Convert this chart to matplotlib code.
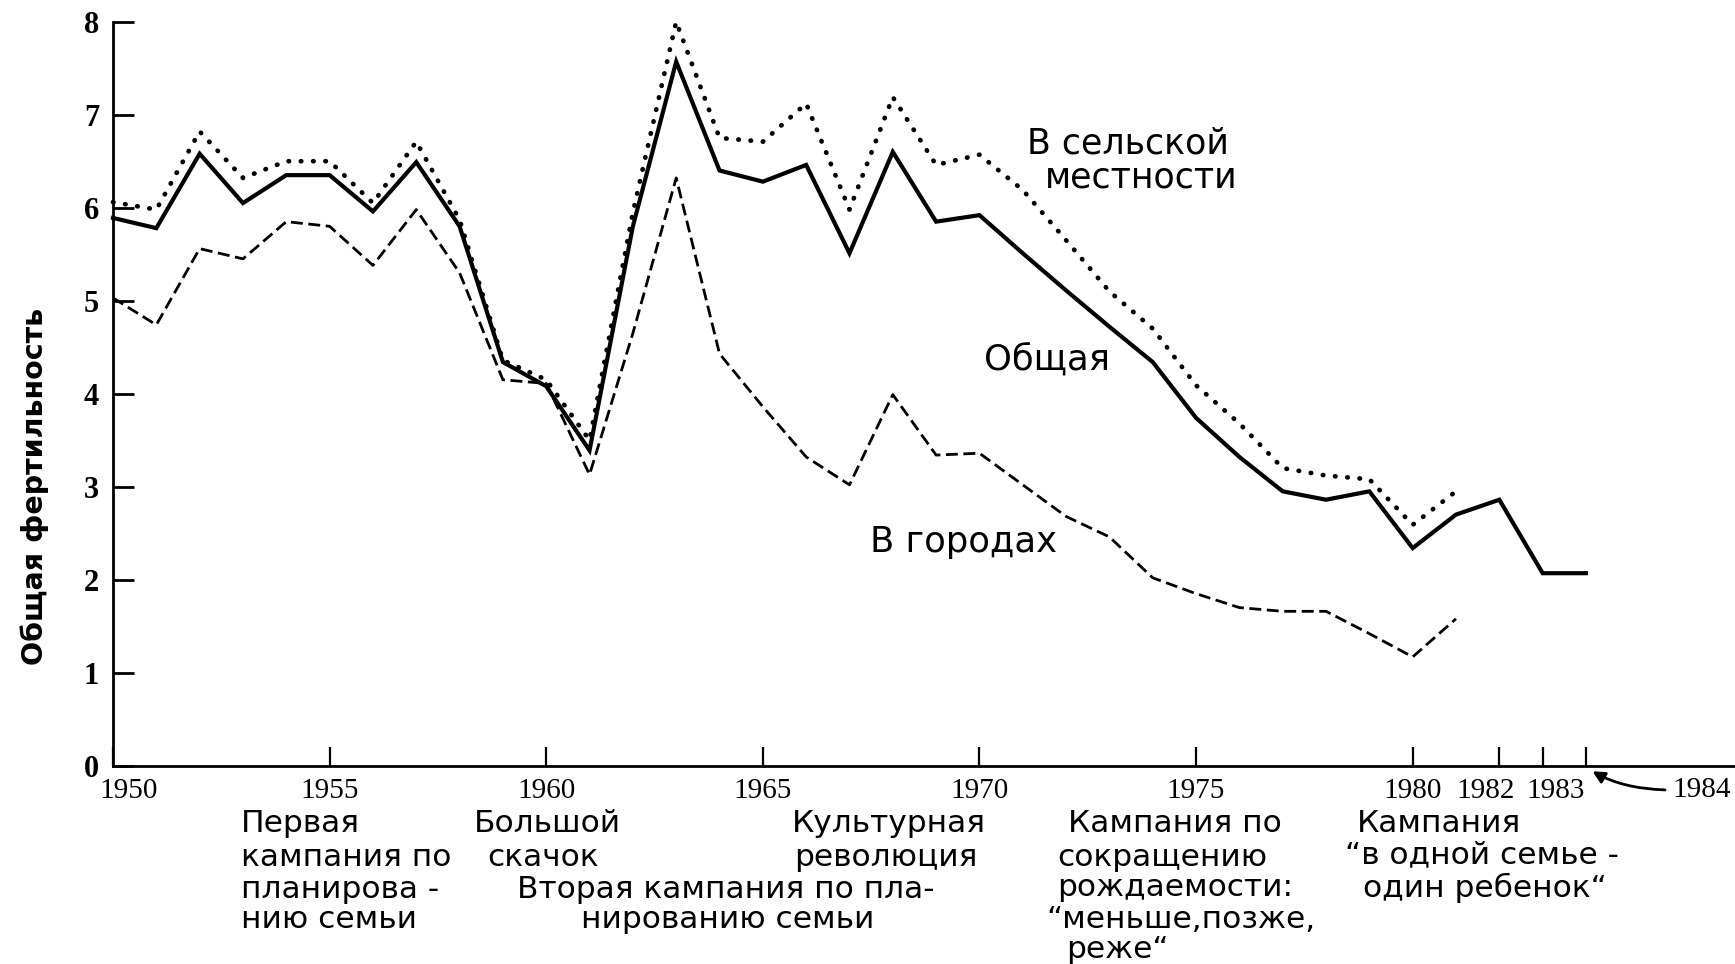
import numpy as np
import matplotlib.pyplot as plt
import matplotlib.transforms as mtransforms

# total fertility rate, China 1950-1984
years_total = list(range(1950, 1985))
total = [5.89, 5.78, 6.58, 6.05, 6.35, 6.35, 5.96, 6.49, 5.80, 4.34,
         4.08, 3.39, 5.80, 7.57, 6.40, 6.28, 6.46, 5.51, 6.60, 5.85,
         5.92, 5.51, 5.11, 4.72, 4.34, 3.74, 3.32, 2.95, 2.86, 2.95,
         2.34, 2.70, 2.86, 2.07, 2.07]

years_sub = list(range(1950, 1982))
rural = [6.06, 5.98, 6.82, 6.32, 6.50, 6.50, 6.05, 6.71, 5.87, 4.36,
         4.15, 3.50, 5.95, 8.00, 6.75, 6.71, 7.12, 5.98, 7.19, 6.46,
         6.57, 6.19, 5.65, 5.10, 4.70, 4.09, 3.68, 3.20, 3.12, 3.08,
         2.59, 2.95]
urban = [5.03, 4.74, 5.56, 5.45, 5.85, 5.80, 5.38, 5.98, 5.30, 4.15,
         4.11, 3.13, 4.65, 6.32, 4.43, 3.86, 3.32, 3.02, 3.99, 3.34,
         3.36, 3.02, 2.68, 2.46, 2.02, 1.85, 1.70, 1.66, 1.66, 1.42,
         1.17, 1.58]

y_ticks = [0, 1, 2, 3, 4, 5, 6, 7, 8]
x_ticks = [1950, 1955, 1960, 1965, 1970, 1975, 1980, 1982, 1983, 1984]
x_labels = ['1950', '1955', '1960', '1965', '1970', '1975', '1980', '1982', '1983', '']

# campaign captions under the axis: (left px, centre px from top, text)
captions = [
    (241, 824, 'Первая'), (241, 857, 'кампания по'), (241, 890, 'планирова -'), (241, 920, 'нию семьи'),
    (474, 824, 'Большой'), (487, 857, 'скачок'),
    (517, 890, 'Вторая кампания по пла-'), (581, 920, 'нированию семьи'),
    (792, 824, 'Культурная'), (794, 857, 'революция'),
    (1068, 824, 'Кампания по'), (1057, 857, 'сокращению'), (1057, 888, 'рождаемости:'),
    (1046, 920, '“меньше,позже,'), (1066, 949, 'реже“'),
    (1357, 824, 'Кампания'), (1345, 855, '“в одной семье -'), (1363, 888, 'один ребенок“'),
]

plt.rcParams['font.family'] = 'DejaVu Sans'

W, H = 1735, 964
fig = plt.figure(figsize=(W / 100, H / 100), dpi=100)
ax = fig.add_axes([113 / W, 1 - 765.7 / H, 1 - 113 / W, (765.7 - 21.7) / H])

ax.plot(years_total, total, color='black', lw=3.0, solid_joinstyle='miter', clip_on=False)
ax.plot(years_sub, rural, color='black', lw=3.4, linestyle=(0, (0.1, 2.5)),
        dash_capstyle='round', clip_on=False)
ax.plot(years_sub, urban, color='black', lw=2.0, linestyle=(0, (4.3, 2.0)), clip_on=False)

ax.set_xlim(1950, 1987.44)
ax.set_ylim(0, 8)
ax.spines['top'].set_visible(False)
ax.spines['right'].set_visible(False)
ax.spines['left'].set_linewidth(2.0)
ax.spines['bottom'].set_linewidth(2.0)

ax.set_yticks(y_ticks)
ax.set_yticklabels([str(v) for v in y_ticks], family='Liberation Serif', weight='bold', fontsize=22)
ax.set_xticks(x_ticks)
ax.set_xticklabels(x_labels, family='Liberation Serif', fontsize=21)
ax.tick_params(axis='y', direction='in', length=15, width=2.0, pad=10)
ax.tick_params(axis='x', direction='in', length=14, width=1.6, pad=9)

# a few year labels sit a little apart from their ticks, as in the original
xl = ax.get_xticklabels()
for i, dx in [(0, 0.16), (7, -0.14), (8, 0.13)]:
    xl[i].set_transform(xl[i].get_transform() + mtransforms.ScaledTranslation(dx, 0, fig.dpi_scale_trans))

fig.text(35 / W, 1 - 486 / H, 'Общая фертильность', rotation=90, ha='center', va='center',
         fontsize=20.5, weight='bold')

# line labels
ax.text(1128 / W, 1 - 144 / H, 'В сельской', transform=fig.transFigure, ha='center', va='center', fontsize=25)
ax.text(1141 / W, 1 - 177 / H, 'местности', transform=fig.transFigure, ha='center', va='center', fontsize=25)
ax.text(1047 / W, 1 - 360 / H, 'Общая', transform=fig.transFigure, ha='center', va='center', fontsize=25.5)
ax.text(963 / W, 1 - 542 / H, 'В городах', transform=fig.transFigure, ha='center', va='center', fontsize=25.5)

for x, y, s in captions:
    fig.text(x / W, 1 - y / H, s, ha='left', va='center', fontsize=22.5)

ax.annotate('1984', xy=(1984.15, -0.06), xycoords='data',
            xytext=(1672 / W, 1 - 790 / H), textcoords='figure fraction',
            ha='left', va='center', family='Liberation Serif', fontsize=21,
            annotation_clip=False,
            arrowprops=dict(arrowstyle='-|>', color='black', lw=2.0, mutation_scale=18,
                            relpos=(0, 0.5), shrinkA=3, shrinkB=0,
                            connectionstyle='angle3,angleA=0,angleB=-30'))

fig.savefig('out.png', dpi=100, facecolor='white')
